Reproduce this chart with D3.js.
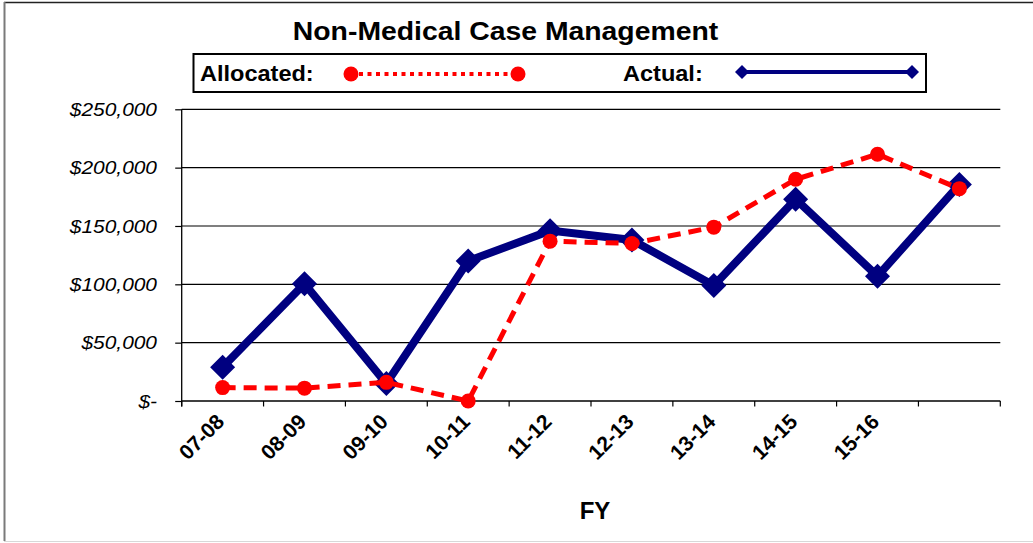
<!DOCTYPE html>
<html>
<head>
<meta charset="utf-8">
<script src="https://cdn.jsdelivr.net/npm/d3@7"></script>
<style>
  html, body { margin: 0; padding: 0; background: #fff; }
  svg { display: block; font-family: Arial, "Liberation Sans", sans-serif; }
</style>
</head>
<body>
<svg id="chart" width="1033" height="543"></svg>
<script>
// ---- data ----
const categories = ["07-08", "08-09", "09-10", "10-11", "11-12", "12-13", "13-14", "14-15", "15-16", "16-17"];
const tickLabels = ["07-08", "08-09", "09-10", "10-11", "11-12", "12-13", "13-14", "14-15", "15-16", ""];
const allocated = [11500, 11000, 16000, 0, 137000, 135000, 149000, 190000, 211500, 182000];
const actual = [29000, 100500, 15000, 120000, 146000, 138000, 99000, 173000, 107000, 185500];
const yTicks = [0, 50000, 100000, 150000, 200000, 250000];
const yTickLabels = ["$-", "$50,000", "$100,000", "$150,000", "$200,000", "$250,000"];
const chartTitle = "Non-Medical Case Management";
const xTitle = "FY";
const seriesNames = ["Allocated:", "Actual:"];

// ---- layout ----
const svg = d3.select("#chart");
const pLeft = 181.7, pRight = 1000.3, pTop = 109.3, pBottom = 401;

const x = d3.scaleBand().domain(categories).range([pLeft, pRight]).padding(0);
const y = d3.scaleLinear().domain([0, 250000]).range([pBottom, pTop]);
const cx = c => x(c) + x.bandwidth() / 2;

// outer border
svg.append("line").attr("x1", 4).attr("x2", 1033).attr("y1", 2.5).attr("y2", 2.5).attr("stroke", "#222").attr("stroke-width", 1.5);
svg.append("line").attr("x1", 4.5).attr("x2", 4.5).attr("y1", 2).attr("y2", 541).attr("stroke", "#7a7a7a").attr("stroke-width", 2);
svg.append("line").attr("x1", 4).attr("x2", 1033).attr("y1", 541.5).attr("y2", 541.5).attr("stroke", "#d8d8d8").attr("stroke-width", 1);

// gridlines
svg.append("g").selectAll("line").data(yTicks.filter(d => d > 0)).join("line")
  .attr("x1", pLeft).attr("x2", pRight)
  .attr("y1", d => y(d)).attr("y2", d => y(d))
  .attr("stroke", "#000").attr("stroke-width", 1.2);

// y axis
const yAxis = d3.axisLeft(y).tickValues(yTicks).tickSize(6.5).tickPadding(0).tickFormat(() => "");
const gy = svg.append("g").attr("transform", `translate(${pLeft},0)`).call(yAxis);
gy.select(".domain").attr("d", `M0,${pTop}V${pBottom + 5.5}`).attr("stroke", "#000").attr("stroke-width", 1.3);
gy.selectAll(".tick line").attr("stroke", "#000").attr("stroke-width", 1.2);
svg.append("g").selectAll("text").data(yTicks).join("text")
  .attr("transform", (d) => `translate(157,${y(d) + 6.7}) scale(1.1,1)`)
  .attr("text-anchor", "end")
  .attr("font-size", 19).attr("font-style", "italic").attr("fill", "#000")
  .text((d, i) => yTickLabels[i]);

// x axis
const xEdges = categories.map(c => x(c)).concat([pRight]);
svg.append("line").attr("x1", pLeft).attr("x2", pRight).attr("y1", pBottom).attr("y2", pBottom).attr("stroke", "#000").attr("stroke-width", 1.3);
svg.append("g").selectAll("line").data(xEdges).join("line")
  .attr("x1", d => d).attr("x2", d => d).attr("y1", pBottom).attr("y2", pBottom + 5.5)
  .attr("stroke", "#000").attr("stroke-width", 1.2);
svg.append("g").selectAll("text").data(categories).join("text")
  .attr("transform", (c) => `translate(${cx(c) + 3},${pBottom + 22}) rotate(-45)`)
  .attr("text-anchor", "end")
  .attr("font-size", 21).attr("font-weight", "bold").attr("fill", "#000")
  .text((c, i) => tickLabels[i]);

// x title
svg.append("text").attr("transform", `translate(${(pLeft + pRight) / 2 + 4},519.3)`)
  .attr("text-anchor", "middle").attr("font-size", 24).attr("font-weight", "bold").text(xTitle);

// title
svg.append("text").attr("transform", `translate(505.5,40) scale(1.07,1)`)
  .attr("text-anchor", "middle").attr("font-size", 26.5).attr("font-weight", "bold").text(chartTitle);

// ---- series ----
const NAVY = "#000080", RED = "#FF0000";
const diamond = r => `M0,${-r}L${r},0L0,${r}L${-r},0Z`;

const lineGen = d3.line().x((d, i) => cx(categories[i])).y(d => y(d));

svg.append("path").datum(actual).attr("d", lineGen)
  .attr("fill", "none").attr("stroke", NAVY).attr("stroke-width", 8).attr("stroke-linejoin", "miter");
svg.append("g").selectAll("path").data(actual).join("path")
  .attr("transform", (d, i) => `translate(${cx(categories[i])},${y(d)})`)
  .attr("d", diamond(12.5)).attr("fill", NAVY);

svg.append("path").datum(allocated).attr("d", lineGen)
  .attr("fill", "none").attr("stroke", RED).attr("stroke-width", 5).attr("stroke-dasharray", "13,8");
svg.append("g").selectAll("circle").data(allocated).join("circle")
  .attr("cx", (d, i) => cx(categories[i])).attr("cy", d => y(d)).attr("r", 7.5).attr("fill", RED);

// ---- legend ----
const lg = svg.append("g");
lg.append("rect").attr("x", 193.5).attr("y", 54).attr("width", 732.5).attr("height", 38)
  .attr("fill", "#fff").attr("stroke", "#000").attr("stroke-width", 2);
lg.append("text").attr("transform", `translate(200,81) scale(1.07,1)`)
  .attr("font-size", 22).attr("font-weight", "bold").text(seriesNames[0]);
lg.append("line").attr("x1", 351).attr("x2", 518).attr("y1", 74).attr("y2", 74)
  .attr("stroke", RED).attr("stroke-width", 4).attr("stroke-dasharray", "4,4.5").attr("stroke-dashoffset", -8);
lg.selectAll("circle.lc").data([351, 518]).join("circle").attr("class", "lc")
  .attr("cx", d => d).attr("cy", 74).attr("r", 7.5).attr("fill", RED);
lg.append("text").attr("transform", `translate(623,81) scale(1.07,1)`)
  .attr("font-size", 22).attr("font-weight", "bold").text(seriesNames[1]);
lg.append("line").attr("x1", 742).attr("x2", 912).attr("y1", 72).attr("y2", 72)
  .attr("stroke", NAVY).attr("stroke-width", 4);
lg.selectAll("path.ld").data([742, 912]).join("path").attr("class", "ld")
  .attr("transform", d => `translate(${d},72)`).attr("d", diamond(7)).attr("fill", NAVY);
</script>
</body>
</html>
